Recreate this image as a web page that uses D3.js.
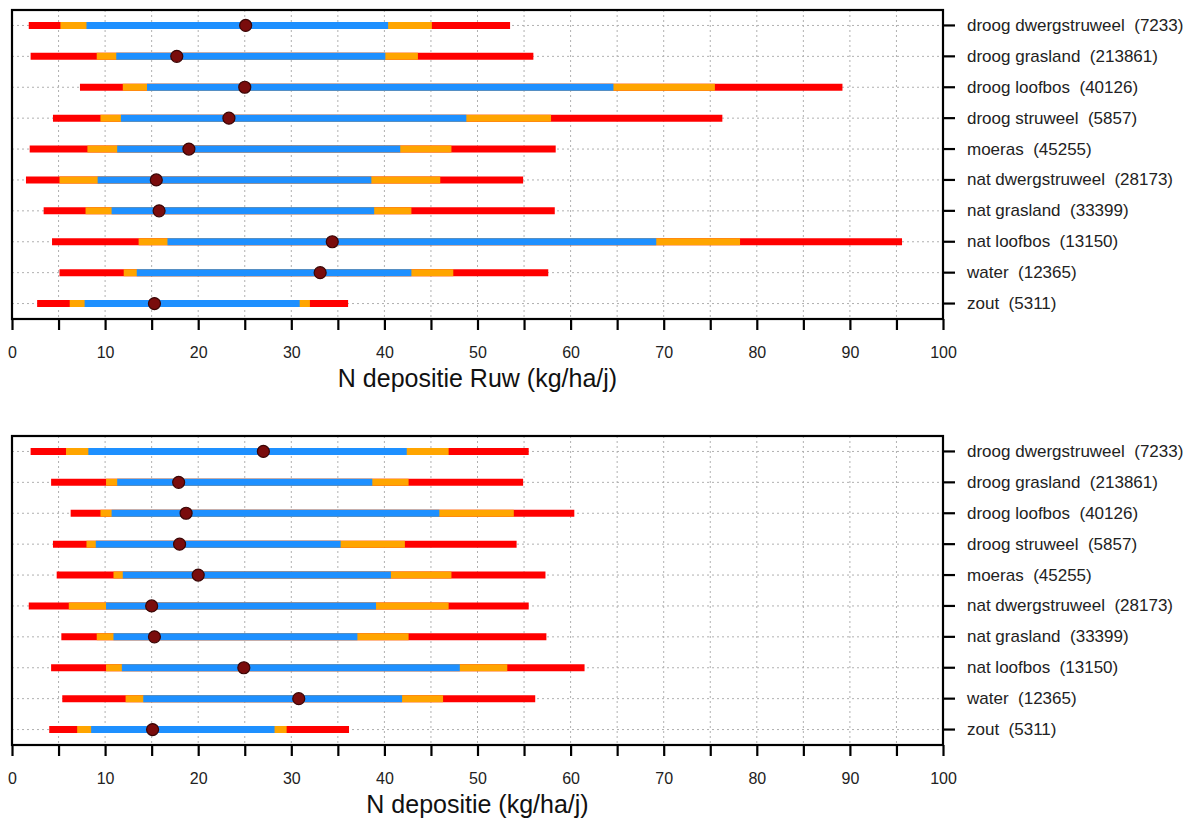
<!DOCTYPE html>
<html>
<head>
<meta charset="utf-8">
<script src="https://cdn.jsdelivr.net/npm/d3@7"></script>
<style>
  html, body { margin: 0; padding: 0; background: #ffffff; }
  svg { display: block; font-family: "Liberation Sans", Arial, sans-serif; }
</style>
</head>
<body>
<svg id="chart" width="1198" height="820"></svg>
<script>
// ---------- data ----------
const categories = ["droog dwergstruweel", "droog grasland", "droog loofbos", "droog struweel", "moeras",
  "nat dwergstruweel", "nat grasland", "nat loofbos", "water", "zout"];
const counts = [7233, 213861, 40126, 5857, 45255, 28173, 33399, 13150, 12365, 5311];
const xTicks = [0, 10, 20, 30, 40, 50, 60, 70, 80, 90, 100];

// Top panel: N depositie Ruw
const ruwMin = [1.8, 2.0, 7.3, 4.4, 1.9, 1.5, 3.4, 4.3, 5.1, 2.7];
const ruwP5  = [5.2, 9.1, 11.9, 9.5, 8.1, 5.1, 7.9, 13.6, 12.0, 6.2];
const ruwP10 = [8.0, 11.2, 14.5, 11.7, 11.3, 9.2, 10.7, 16.7, 13.4, 7.8];
const ruwMed = [25.1, 17.7, 25.0, 23.3, 19.0, 15.5, 15.8, 34.4, 33.1, 15.3];
const ruwP90 = [40.4, 40.1, 64.6, 48.8, 41.7, 38.6, 38.9, 69.2, 42.9, 30.9];
const ruwP95 = [45.1, 43.6, 75.5, 57.9, 47.2, 46.0, 42.9, 78.2, 47.4, 32.0];
const ruwMax = [53.5, 56.0, 89.2, 76.3, 58.4, 54.9, 58.3, 95.6, 57.6, 36.1];

// Bottom panel: N depositie
const depMin = [2.0, 4.2, 6.3, 4.4, 4.8, 1.8, 5.3, 4.2, 5.4, 4.0];
const depP5  = [5.8, 10.1, 9.5, 8.0, 10.9, 6.1, 9.1, 10.1, 12.2, 7.0];
const depP10 = [8.2, 11.3, 10.7, 9.0, 11.9, 10.1, 10.9, 11.8, 14.1, 8.5];
const depMed = [27.0, 17.9, 18.7, 18.0, 20.0, 15.0, 15.3, 24.9, 30.8, 15.1];
const depP90 = [42.4, 38.7, 45.9, 35.3, 40.7, 39.1, 37.1, 48.1, 41.9, 28.2];
const depP95 = [46.9, 42.6, 53.9, 42.2, 47.2, 46.9, 42.6, 53.2, 46.3, 29.5];
const depMax = [55.5, 54.9, 60.4, 54.2, 57.3, 55.5, 57.4, 61.5, 56.2, 36.2];

const panels = [
  { title: "N depositie Ruw (kg/ha/j)", top: 10, min: ruwMin, p5: ruwP5, p10: ruwP10, med: ruwMed, p90: ruwP90, p95: ruwP95, max: ruwMax },
  { title: "N depositie (kg/ha/j)", top: 436, min: depMin, p5: depP5, p10: depP10, med: depMed, p90: depP90, p95: depP95, max: depMax }
];

// ---------- layout ----------
const left = 12, right = 943, panelH = 309;
const colRed = "#ff0000", colOrange = "#ffa500", colBlue = "#1e90ff";
const svg = d3.select("#chart");
const x = d3.scaleLinear().domain([0, 100]).range([left, right]);
const gridVals = d3.range(5, 100, 5);
const tickVals = d3.range(0, 101, 5);

panels.forEach(p => {
  const top = p.top, bottom = top + panelH;
  const y = d3.scaleBand().domain(categories).range([top, bottom]).paddingInner(0).paddingOuter(0);
  const yc = c => y(c) + y.bandwidth() / 2;
  const g = svg.append("g");

  // vertical grid
  g.selectAll(".vg").data(gridVals).join("line")
    .attr("x1", d => x(d)).attr("x2", d => x(d))
    .attr("y1", top).attr("y2", bottom)
    .attr("stroke", "#b0b0b0").attr("stroke-width", 1).attr("stroke-dasharray", "2,3");

  // horizontal grid
  g.selectAll(".hg").data(categories).join("line")
    .attr("x1", x(0)).attr("x2", x(100))
    .attr("y1", d => yc(d)).attr("y2", d => yc(d))
    .attr("stroke", "#b0b0b0").attr("stroke-width", 1).attr("stroke-dasharray", "2,3");

  const seg = (lo, hi, color) => {
    g.selectAll(null).data(categories).join("line")
      .attr("x1", (d, i) => x(lo[i])).attr("x2", (d, i) => x(hi[i]))
      .attr("y1", d => yc(d)).attr("y2", d => yc(d))
      .attr("stroke", color).attr("stroke-width", 7).attr("stroke-linecap", "butt");
  };
  seg(p.min, p.max, colRed);
  seg(p.p5, p.p95, colOrange);
  seg(p.p10, p.p90, colBlue);

  // medians
  g.selectAll(".med").data(categories).join("circle")
    .attr("cx", (d, i) => x(p.med[i])).attr("cy", d => yc(d)).attr("r", 6)
    .attr("fill", "#7a0c0c").attr("stroke", "#3a0505").attr("stroke-width", 1.2);

  // frame
  g.append("rect").attr("x", left).attr("y", top).attr("width", right - left).attr("height", panelH)
    .attr("fill", "none").attr("stroke", "#000").attr("stroke-width", 2.2);

  // bottom axis
  const xAxis = d3.axisBottom(x).tickValues(tickVals).tickSize(11).tickSizeOuter(0)
    .tickFormat(d => (xTicks.includes(d) ? d : ""));
  const ax = g.append("g").attr("transform", `translate(0,${bottom})`).call(xAxis);
  ax.select(".domain").remove();
  ax.selectAll(".tick line").attr("stroke", "#000").attr("stroke-width", 2.2);
  ax.selectAll(".tick text").attr("font-size", 16).attr("fill", "#222").attr("y", 39).attr("dy", null)
    .attr("font-family", "'Liberation Sans', Arial, sans-serif");

  // right axis labels
  const yAxis = d3.axisRight(y).tickSize(12).tickSizeOuter(0)
    .tickFormat((d, i) => d + "\u00a0\u00a0(" + counts[categories.indexOf(d)] + ")");
  const ay = g.append("g").attr("transform", `translate(${right},0)`).call(yAxis);
  ay.select(".domain").remove();
  ay.selectAll(".tick line").attr("stroke", "#000").attr("stroke-width", 2.2);
  ay.selectAll(".tick text").attr("font-size", 17).attr("fill", "#222").attr("x", 24)
    .attr("font-family", "'Liberation Sans', Arial, sans-serif");

  // title
  g.append("text").attr("x", (left + right) / 2).attr("y", bottom + 68)
    .attr("text-anchor", "middle").attr("font-size", 25).attr("fill", "#111")
    .text(p.title);
});
</script>
</body>
</html>
